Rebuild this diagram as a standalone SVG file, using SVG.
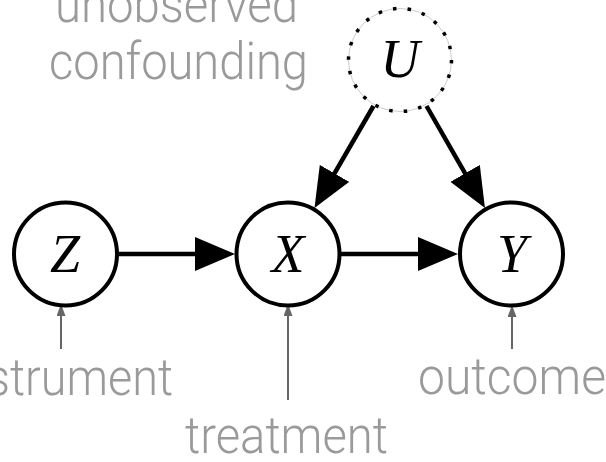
<svg xmlns="http://www.w3.org/2000/svg" width="606" height="462" viewBox="0 0 606 462">
<style>
.node{fill:#fff;stroke:#000;stroke-width:4}
.var{font-family:"Liberation Serif","DejaVu Serif",serif;font-style:italic;font-size:54px;fill:#000;text-anchor:middle}
.lbl{font-family:Roboto,"Liberation Sans",sans-serif;font-weight:300;font-size:52px;fill:#9a9a9a;text-anchor:middle}
.edge{stroke:#000;stroke-width:4.5;fill:none}
.note{stroke:#666;stroke-width:2;fill:none}
</style>
<defs>
<marker id="ah" viewBox="0 0 40 34" markerWidth="40" markerHeight="34" refX="20" refY="17" orient="auto" markerUnits="userSpaceOnUse">
<path d="M0,0 L40,17 L0,34 Z" fill="#000"/>
</marker>
<marker id="sh" viewBox="0 0 12 9" markerWidth="12" markerHeight="9" refX="6" refY="4.5" orient="auto" markerUnits="userSpaceOnUse">
<path d="M0,0 L12,4.5 L0,9 Z" fill="#666"/>
</marker>
</defs>
<g id="labels">
<text class="lbl" x="176.5" y="22" textLength="243" lengthAdjust="spacingAndGlyphs">unobserved</text>
<text class="lbl" x="178.5" y="79" textLength="259" lengthAdjust="spacingAndGlyphs">confounding</text>
<text class="lbl" x="61.5" y="395" textLength="223" lengthAdjust="spacingAndGlyphs">instrument</text>
<text class="lbl" x="286.5" y="453" textLength="203" lengthAdjust="spacingAndGlyphs">treatment</text>
<text class="lbl" x="512" y="394" textLength="188" lengthAdjust="spacingAndGlyphs">outcome</text>
</g>
<g id="connectors">
<line class="edge" x1="119" y1="254" x2="215" y2="254" marker-end="url(#ah)"/>
<line class="edge" x1="341" y1="254" x2="438" y2="254" marker-end="url(#ah)"/>
<line class="edge" x1="373.5" y1="106" x2="324.5" y2="190.7" marker-end="url(#ah)"/>
<line class="edge" x1="426.5" y1="106" x2="475" y2="190.7" marker-end="url(#ah)"/>
<line class="note" x1="61" y1="349" x2="61" y2="310" marker-end="url(#sh)"/>
<line class="note" x1="288" y1="400" x2="288" y2="310" marker-end="url(#sh)"/>
<line class="note" x1="512" y1="349" x2="512" y2="311" marker-end="url(#sh)"/>
</g>
<g id="node-U">
<circle cx="400" cy="60" r="51.5" fill="#fff" stroke="#ccc" stroke-width="1"/>
<circle cx="400" cy="60" r="51.5" fill="none" stroke="#000" stroke-width="3.5" stroke-dasharray="3.5 11.2"/>
<text class="var" x="400" y="77">U</text>
</g>
<g id="node-Z">
<circle class="node" cx="65.5" cy="254" r="51.5"/>
<text class="var" x="65" y="272">Z</text>
</g>
<g id="node-X">
<circle class="node" cx="288" cy="254" r="51.5"/>
<text class="var" x="288" y="272">X</text>
</g>
<g id="node-Y">
<circle class="node" cx="511.5" cy="254" r="51.5"/>
<text class="var" x="512" y="272">Y</text>
</g>
</svg>
